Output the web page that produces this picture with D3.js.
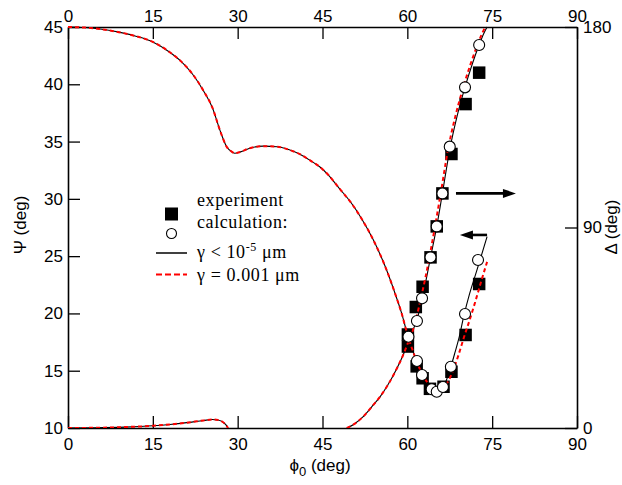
<!DOCTYPE html>
<html>
<head>
<meta charset="utf-8">
<script src="https://cdn.jsdelivr.net/npm/d3@7"></script>
<style>
  body { margin: 0; background: #fff; }
  text { font-family: "Liberation Sans", Arial, sans-serif; fill: #000; }
  .serif { font-family: "Liberation Serif", "Times New Roman", serif; }
</style>
</head>
<body>
<svg id="chart" width="622" height="485"></svg>
<script>
// ---- data ----
const phiTicks = [0, 15, 30, 45, 60, 75, 90];
const psiTicks = [10, 15, 20, 25, 30, 35, 40, 45];
const deltaTicks = [0, 90, 180];

// Psi (left axis), gamma < 1e-5 um
const psiPhiBlack = [0, 3, 6, 9, 12, 15, 18, 20, 22, 24, 25.5, 27, 28, 29, 29.5, 30.5, 32, 34.5, 37, 39, 41, 43, 44.5, 46, 48, 50, 52, 54, 56, 58, 59, 60, 61, 62, 63, 64, 65, 66, 67, 67.7, 68.4, 69.2, 70, 71, 72, 73, 74.1];
const psiBlack =    [45, 44.95, 44.8, 44.55, 44.2, 43.7, 42.8, 42.0, 40.9, 39.4, 38.0, 35.8, 34.6, 34.1, 33.98, 34.1, 34.4, 34.6, 34.55, 34.3, 33.9, 33.3, 32.8, 32.1, 30.9, 29.7, 28.2, 26.4, 24.2, 21.5, 20.0, 18.2, 16.7, 15.4, 14.4, 13.7, 13.3, 13.3, 14.3, 15.35, 16.55, 18.0, 19.8, 21.7, 23.3, 24.9, 26.7];
// Psi, gamma = 0.001 um
const psiPhiRed = [0, 3, 6, 9, 12, 15, 18, 20, 22, 24, 25.5, 27, 28, 29, 29.5, 30.5, 32, 34.5, 37, 39, 41, 43, 44.5, 46, 48, 50, 52, 54, 56, 58, 59, 60, 61, 62, 63, 64, 65, 66, 67, 68, 69, 70, 71, 72, 73, 74.1];
const psiRed =    [45, 44.95, 44.8, 44.55, 44.2, 43.7, 42.8, 42.0, 40.9, 39.4, 38.0, 35.8, 34.6, 34.1, 33.98, 34.1, 34.4, 34.6, 34.55, 34.3, 33.9, 33.3, 32.8, 32.1, 30.9, 29.7, 28.2, 26.4, 24.2, 21.5, 20.0, 18.2, 16.7, 15.4, 14.4, 13.7, 13.3, 13.4, 13.9, 14.9, 16.3, 17.9, 19.4, 21.0, 22.7, 24.5];

// Delta (right axis); null breaks where the curve leaves the plot
const deltaPhiBlack = [0, 5, 10, 15, 18, 21, 24, 25.5, 26.5, 27.3, 27.9, 28.3, null, 49.3, 50.5, 52.2, 53.7, 55.2, 56.6, 58.1, 59.3, 60, 61, 61.7, 62.6, 63.4, 64.1, 65.2, 66.2, 67.5, 68.8, 70.2, 71.5, 72.7, 73.5, 74.1];
const deltaBlack =    [0, 0.1, 0.4, 1.0, 1.6, 2.4, 3.4, 3.8, 3.6, 2.8, 1.5, 0, null, 0, 1.6, 5.1, 9.5, 14.1, 19.5, 26.5, 33, 37.5, 44, 48.5, 58.2, 67.5, 76.6, 90.5, 105.3, 125, 140, 153, 163.5, 172, 177, 180];
const deltaPhiRed = [0, 5, 10, 15, 18, 21, 24, 25.5, 26.5, 27.3, 27.9, 28.3, null, 49.3, 50.5, 52.2, 53.7, 55.2, 56.6, 58.1, 59.3, 60, 61, 61.5, 62.4, 63.2, 63.9, 64.9, 65.9, 67.2, 68.5, 69.9, 71.2, 72.4, 73.2, 73.8];
const deltaRed =    [0, 0.1, 0.4, 1.0, 1.6, 2.4, 3.4, 3.8, 3.6, 2.8, 1.5, 0, null, 0, 1.6, 5.1, 9.5, 14.1, 19.5, 26.5, 33, 37.5, 44, 48.5, 58.2, 67.5, 76.6, 90.5, 105.3, 125, 140, 153, 163.5, 172, 177, 180];

// experiment (filled squares) and calculation (open circles)
const psiExpPhi =  [60.1, 60.1, 61.65, 62.7, 64.0, 66.4, 67.8, 70.3, 72.7];
const psiExp =     [18.16, 17.11, 15.38, 14.34, 13.42, 13.6, 14.91, 18.12, 22.57];
const psiCalcPhi = [60.2, 61.7, 62.6, 64.3, 65.2, 66.3, 67.7, 70.2, 72.5];
const psiCalc =    [17.97, 15.85, 14.63, 13.38, 13.17, 13.58, 15.35, 19.95, 24.66];
const deltaExpPhi =  [61.5, 62.7, 64.1, 65.2, 66.2, 67.8, 70.3, 72.7];
const deltaExp =     [54.3, 63.4, 76.6, 90.5, 105.3, 123, 145.4, 159.5];
const deltaCalcPhi = [61.7, 62.6, 64.1, 65.2, 66.2, 67.5, 70.2, 72.7];
const deltaCalc =    [48, 58.2, 76.6, 90.5, 105.3, 126.3, 152.9, 171.9];

(function () {
  const svg = d3.select("#chart");
  const left = 68, right = 577, top = 27, bottom = 428;

  const x = d3.scaleLinear().domain([0, 90]).range([left, right]);
  const yPsi = d3.scaleLinear().domain([10, 45]).range([bottom, top]);
  const yDelta = d3.scaleLinear().domain([0, 180]).range([bottom, top]);

  svg.append("rect").attr("width", 622).attr("height", 485).attr("fill", "#fff");

  svg.append("clipPath").attr("id", "plot")
    .append("rect").attr("x", left).attr("y", top - 2)
    .attr("width", right - left).attr("height", bottom - top + 2);

  // ---- axes (ticks point inwards) ----
  const tickLen = 12;
  const axisBottom = d3.axisBottom(x).tickValues(phiTicks).tickSizeInner(-tickLen).tickSizeOuter(0).tickPadding(10);
  const axisTop = d3.axisTop(x).tickValues(phiTicks).tickSizeInner(-tickLen).tickSizeOuter(0).tickPadding(5);
  const axisLeft = d3.axisLeft(yPsi).tickValues(psiTicks).tickSizeInner(-tickLen).tickSizeOuter(0).tickPadding(5);
  const axisRight = d3.axisRight(yDelta).tickValues(deltaTicks).tickSizeInner(-tickLen).tickSizeOuter(0).tickPadding(6);

  function styleAxis(g) {
    g.attr("font-family", null);
    g.select(".domain").attr("stroke", "#000").attr("stroke-width", 1.6);
    g.selectAll(".tick line").attr("stroke", "#000").attr("stroke-width", 1.3);
    g.selectAll(".tick text").attr("font-size", 17).attr("fill", "#000");
  }

  svg.append("g").attr("transform", `translate(0,${bottom})`).call(axisBottom).call(styleAxis);
  svg.append("g").attr("transform", `translate(0,${top})`).call(axisTop).call(styleAxis);
  svg.append("g").attr("transform", `translate(${left},0)`).call(axisLeft).call(styleAxis);
  svg.append("g").attr("transform", `translate(${right},0)`).call(axisRight).call(styleAxis);

  // ---- axis titles ----
  svg.append("text").attr("transform", "translate(26,225) rotate(-90)")
    .attr("text-anchor", "middle").attr("font-size", 17).text("\u03A8 (deg)");
  svg.append("text").attr("transform", "translate(617,227) rotate(-90)")
    .attr("text-anchor", "middle").attr("font-size", 17).text("\u0394 (deg)");
  const xt = svg.append("text").attr("x", 320).attr("y", 471)
    .attr("text-anchor", "middle").attr("font-size", 17);
  xt.append("tspan").text("\u03D5");
  xt.append("tspan").attr("dy", 5).attr("font-size", 13).text("0");
  xt.append("tspan").attr("dy", -5).text(" (deg)");

  const plot = svg.append("g").attr("clip-path", "url(#plot)");

  // ---- experimental squares (under the curves) ----
  const sq = 12.5;
  function squares(phis, vals, yScale) {
    plot.append("g").selectAll("rect").data(phis).join("rect")
      .attr("x", (d) => x(d) - sq / 2)
      .attr("y", (d, i) => yScale(vals[i]) - sq / 2)
      .attr("width", sq).attr("height", sq).attr("fill", "#000");
  }
  squares(psiExpPhi, psiExp, yPsi);
  squares(deltaExpPhi, deltaExp, yDelta);

  // ---- calculated curves ----
  function curve(phis, vals, yScale, color, width, dash) {
    const pts = phis.map((p, i) => [p, vals[i]]);
    const line = d3.line()
      .defined(d => d[0] !== null)
      .x(d => x(d[0])).y(d => yScale(d[1]))
      .curve(d3.curveMonotoneX);
    plot.append("path").datum(pts)
      .attr("d", line).attr("fill", "none")
      .attr("stroke", color).attr("stroke-width", width)
      .attr("stroke-dasharray", dash);
  }
  curve(psiPhiBlack, psiBlack, yPsi, "#000", 1.1, null);
  curve(deltaPhiBlack, deltaBlack, yDelta, "#000", 1.1, null);
  curve(psiPhiRed, psiRed, yPsi, "#ff0000", 2, "4,3");
  curve(deltaPhiRed, deltaRed, yDelta, "#ff0000", 2, "4,3");

  // ---- calculated circles (on top) ----
  function circles(phis, vals, yScale) {
    plot.append("g").selectAll("circle").data(phis).join("circle")
      .attr("cx", d => x(d))
      .attr("cy", (d, i) => yScale(vals[i]))
      .attr("r", 5.5).attr("fill", "#fff").attr("stroke", "#000").attr("stroke-width", 1.1);
  }
  circles(psiCalcPhi, psiCalc, yPsi);
  circles(deltaCalcPhi, deltaCalc, yDelta);

  // ---- arrows pointing to the axis each curve belongs to ----
  function arrow(x0, x1, yy) {
    const dir = Math.sign(x1 - x0);
    svg.append("line").attr("x1", x0).attr("x2", x1 - dir * 10).attr("y1", yy).attr("y2", yy)
      .attr("stroke", "#000").attr("stroke-width", 2.6);
    svg.append("path")
      .attr("d", `M${x1},${yy} L${x1 - dir * 13},${yy - 4.5} L${x1 - dir * 13},${yy + 4.5} Z`)
      .attr("fill", "#000");
  }
  arrow(x(68.6), x(79.2), yDelta(105.3));
  arrow(x(74.1), x(69.3), yPsi(26.85));

  // ---- legend ----
  const lg = svg.append("g");
  lg.append("rect").attr("x", 165).attr("y", 207.5).attr("width", 13).attr("height", 13).attr("fill", "#000");
  lg.append("circle").attr("cx", 171.5).attr("cy", 233.5).attr("r", 5).attr("fill", "#fff").attr("stroke", "#000").attr("stroke-width", 1.1);
  lg.append("line").attr("x1", 156).attr("x2", 187).attr("y1", 253).attr("y2", 253).attr("stroke", "#000").attr("stroke-width", 1.5);
  lg.append("line").attr("x1", 156).attr("x2", 187).attr("y1", 274.5).attr("y2", 274.5).attr("stroke", "#ff0000").attr("stroke-width", 2).attr("stroke-dasharray", "6,3");

  const lt = (y) => lg.append("text").attr("class", "serif").attr("x", 197).attr("y", y)
    .attr("font-size", 18).attr("letter-spacing", 0.6);
  lt(206).text("experiment");
  lt(228).text("calculation:");
  const t3 = lt(258);
  t3.append("tspan").text("\u03B3 < 10");
  t3.append("tspan").attr("dy", -7).attr("font-size", 12).text("-5");
  t3.append("tspan").attr("dy", 7).text(" \u03BCm");
  lt(281).text("\u03B3 = 0.001 \u03BCm");
})();
</script>
</body>
</html>
